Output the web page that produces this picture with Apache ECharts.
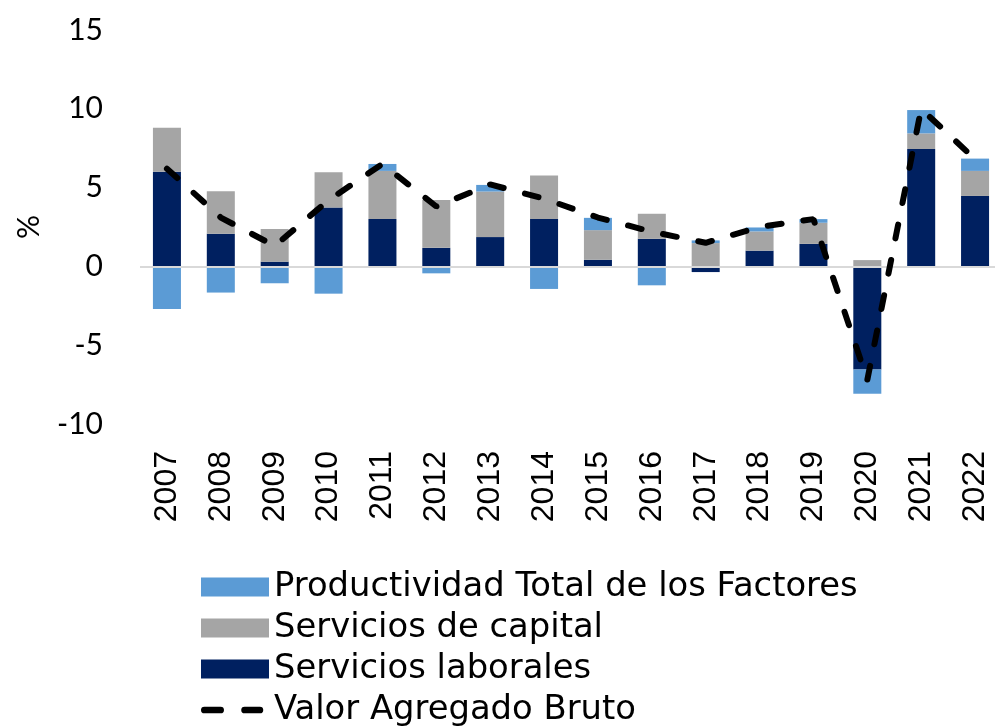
<!DOCTYPE html>
<html>
<head>
<meta charset="utf-8">
<script src="https://cdn.jsdelivr.net/npm/echarts@6/dist/echarts.min.js"></script>
<style>
  html, body { margin: 0; padding: 0; background: #fff; }
  #chart { width: 995px; height: 726px; }
</style>
</head>
<body>
<div id="chart"></div>
<script>
// datos (%)
const years = ['2007', '2008', '2009', '2010', '2011', '2012', '2013', '2014',
  '2015', '2016', '2017', '2018', '2019', '2020', '2021', '2022'];
const laborales = [6.0, 2.07, 0.3, 3.73, 3.0, 1.18, 1.86, 3.0, 0.42, 1.75, -0.36, 1.0, 1.43, -6.54, 7.45, 4.47];
const capital = [2.8, 2.7, 2.07, 2.24, 3.06, 3.04, 2.89, 2.76, 1.88, 1.59, 1.48, 1.22, 1.34, 0.4, 0.99, 1.59];
const ptf = [-2.7, -1.66, -1.07, -1.73, 0.44, -0.44, 0.42, -1.43, 0.78, -1.2, 0.17, 0.25, 0.23, -1.54, 1.48, 0.78];
const vab = [6.2, 3.1, 1.3, 4.2, 6.5, 3.8, 5.2, 4.3, 3.1, 2.2, 1.5, 2.5, 3.0, -7.2, 10.0, 6.8];

const yTicks = { min: -10, max: 15, interval: 5 };

// icono de la leyenda: dos trazos redondeados (las esquinas diminutas fijan el tamaño 68x19)
const dashIcon = 'path://M0.5,6H17.5A3.5,3.5 0 0 1 17.5,13H0.5A3.5,3.5 0 0 1 0.5,6Z' +
  ' M42.5,6H58.5A3.5,3.5 0 0 1 58.5,13H42.5A3.5,3.5 0 0 1 42.5,6Z' +
  ' M-3,0H-2.9V0.1H-3Z M68,19H67.9V18.9H68Z';

const chart = echarts.init(document.getElementById('chart'));

let option = {
  animation: false,
  backgroundColor: '#fff',
  grid: {
    left: 140,
    top: 30,
    width: 862,
    height: 394,
    containLabel: false,
    outerBoundsMode: 'none'
  },
  legend: {
    orient: 'vertical',
    left: 201,
    top: 570,
    height: 200,
    padding: 0,
    itemWidth: 68,
    itemHeight: 19,
    itemGap: 7,
    textStyle: {
      fontFamily: 'DejaVu Sans',
      fontSize: 33.8,
      lineHeight: 32,
      color: '#000'
    },
    data: [
      { name: 'Productividad Total de los Factores', icon: 'rect' },
      { name: 'Servicios de capital', icon: 'rect' },
      { name: 'Servicios laborales', icon: 'rect' },
      { name: 'Valor Agregado Bruto', icon: dashIcon, itemStyle: { color: '#000' } }
    ]
  },
  xAxis: {
    type: 'category',
    data: years,
    position: 'bottom',
    axisLine: { show: false, onZero: false },
    axisTick: { show: false },
    splitLine: { show: false },
    axisLabel: {
      rotate: 90,
      margin: 27,
      interval: 0,
      fontFamily: 'Liberation Sans',
      fontSize: 32,
      color: '#000'
    }
  },
  yAxis: {
    type: 'value',
    min: yTicks.min,
    max: yTicks.max,
    interval: yTicks.interval,
    name: '%',
    nameLocation: 'middle',
    nameRotate: 90,
    nameGap: 96,
    nameTextStyle: { fontFamily: 'Lato', fontSize: 30, color: '#000' },
    axisLine: { show: false },
    axisTick: { show: false },
    splitLine: { show: false },
    axisLabel: {
      margin: 37,
      fontFamily: 'Lato',
      fontSize: 30,
      color: '#000'
    }
  },
  series: [
    {
      name: 'Servicios laborales',
      type: 'bar',
      stack: 'total',
      barWidth: '52%',
      itemStyle: { color: '#002060' },
      data: laborales,
      markLine: {
        silent: true,
        symbol: 'none',
        label: { show: false },
        lineStyle: { color: '#d9d9d9', width: 2, type: 'solid' },
        data: [{ yAxis: 0 }]
      }
    },
    {
      name: 'Servicios de capital',
      type: 'bar',
      stack: 'total',
      itemStyle: { color: '#a5a5a5' },
      data: capital
    },
    {
      name: 'Productividad Total de los Factores',
      type: 'bar',
      stack: 'total',
      itemStyle: { color: '#5b9bd5' },
      data: ptf
    },
    {
      name: 'Valor Agregado Bruto',
      type: 'line',
      symbol: 'none',
      z: 5,
      lineStyle: {
        color: '#000',
        width: 6,
        type: [14, 22],
        cap: 'round'
      },
      itemStyle: { color: '#000' },
      data: vab
    }
  ]
};

option && chart.setOption(option);
</script>
</body>
</html>
